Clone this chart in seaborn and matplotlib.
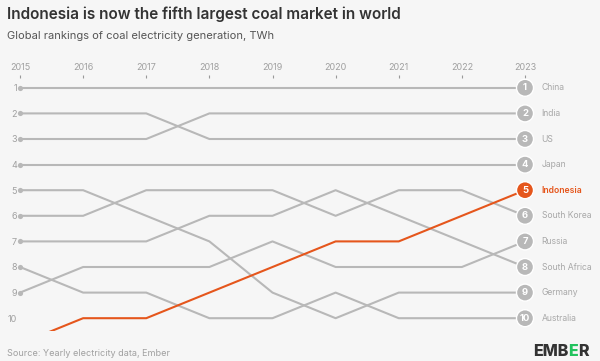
import matplotlib
matplotlib.use('Agg')
import matplotlib.pyplot as plt
import seaborn as sns
import pandas as pd

years = [2015, 2016, 2017, 2018, 2019, 2020, 2021, 2022, 2023]
countries = ['China', 'India', 'US', 'Japan', 'Indonesia', 'South Korea',
             'Russia', 'South Africa', 'Germany', 'Australia']

# rank per year (Indonesia was 11th in 2015)
china = [1, 1, 1, 1, 1, 1, 1, 1, 1]
india = [3, 3, 3, 2, 2, 2, 2, 2, 2]
us = [2, 2, 2, 3, 3, 3, 3, 3, 3]
japan = [4, 4, 4, 4, 4, 4, 4, 4, 4]
indonesia = [11, 10, 10, 9, 8, 7, 7, 6, 5]
south_korea = [6, 6, 5, 5, 5, 6, 5, 5, 6]
russia = [9, 8, 8, 8, 7, 8, 8, 8, 7]
south_africa = [7, 7, 7, 6, 6, 5, 6, 7, 8]
germany = [5, 5, 6, 7, 9, 10, 9, 9, 9]
australia = [8, 9, 9, 10, 10, 9, 10, 10, 10]

series = [china, india, us, japan, indonesia, south_korea,
          russia, south_africa, germany, australia]
rows = []
for name, ranks in zip(countries, series):
    for y, r in zip(years, ranks):
        rows.append({'year': y, 'rank': r, 'country': name})
df = pd.DataFrame(rows)

GREY = '#b8b8b8'
ORANGE = '#e5561c'
BG = '#f6f6f6'
pal = {c: GREY for c in countries}
pal['Indonesia'] = ORANGE
hue_order = [c for c in countries if c != 'Indonesia'] + ['Indonesia']

sns.set_theme(style='white')
plt.rcParams['font.family'] = ['Inter', 'DejaVu Sans']

fig = plt.figure(figsize=(6, 3.61), dpi=100, facecolor=BG)
ax = fig.add_axes([20 / 600, 30 / 361, 505 / 600, 256 / 361])
ax.set_facecolor(BG)

sns.lineplot(data=df, x='year', y='rank', hue='country', hue_order=hue_order,
             palette=pal, linewidth=1.5, legend=False, ax=ax)

start = df[(df['year'] == 2015) & (df['rank'] <= 10)]
sns.scatterplot(data=start, x='year', y='rank', color=GREY, s=14,
                linewidth=0, legend=False, ax=ax, clip_on=False, zorder=4)

end = df[df['year'] == 2023]
sns.scatterplot(data=end, x='year', y='rank', hue='country', hue_order=hue_order,
                palette=pal, s=150, edgecolor='white', linewidth=1,
                legend=False, ax=ax, clip_on=False, zorder=5)

for _, row in end.iterrows():
    col = ORANGE if row['country'] == 'Indonesia' else '#a8a8a8'
    ax.text(2023, row['rank'], str(row['rank']), ha='center', va='center',
            color='white', fontsize=6.8, fontweight='bold', zorder=6)
    ax.annotate(row['country'], (2023, row['rank']), xytext=(12, 0),
                textcoords='offset points', ha='left', va='center',
                fontsize=6.2, color=col,
                fontweight='semibold' if row['country'] == 'Indonesia' else 'normal',
                annotation_clip=False)

ax.set_xlim(2015, 2023)
ax.set_ylim(10.5, 0.5)
ax.set_xticks(years)
ax.set_xticklabels([str(y) for y in years])
ax.set_yticks(range(1, 11))
ax.set_yticklabels([str(i) for i in range(1, 11)])
ax.xaxis.tick_top()
ax.tick_params(axis='x', top=True, length=2.5, width=0.8, direction='in',
               color='#999999', labelsize=6.5, labelcolor='#a0a0a0', pad=2)
ax.tick_params(axis='y', left=False, length=0, labelsize=6.5,
               labelcolor='#a0a0a0', pad=2)
ax.set_xlabel('')
ax.set_ylabel('')
for s in ax.spines.values():
    s.set_visible(False)

fig.text(7 / 600, 1 - 14 / 361, 'Indonesia is now the fifth largest coal market in world',
         fontsize=11, fontweight='semibold', color='#333333', va='center')
fig.text(7 / 600, 1 - 36 / 361, 'Global rankings of coal electricity generation, TWh',
         fontsize=8, color='#555555', va='center')
fig.text(7 / 600, 1 - 353 / 361, 'Source: Yearly electricity data, Ember',
         fontsize=6.5, color='#a0a0a0', va='center')

# logo
t1 = fig.text(533 / 600, 1 - 352 / 361, 'EMB', fontsize=11.5, fontweight='heavy',
              color='#333333', va='center')
t2 = fig.text(0, 0, 'E', fontsize=11.5, fontweight='heavy', color='#22c35e', va='center')
fig.canvas.draw()
r = fig.canvas.get_renderer()
bb = t1.get_window_extent(r)
t2.set_position((bb.x1 / fig.bbox.width, 1 - 352 / 361))
bb2 = t2.get_window_extent(r)
fig.text(bb2.x1 / fig.bbox.width, 1 - 352 / 361, 'R', fontsize=11.5, fontweight='heavy',
         color='#333333', va='center')

fig.savefig('out.png', dpi=100, facecolor=BG)
